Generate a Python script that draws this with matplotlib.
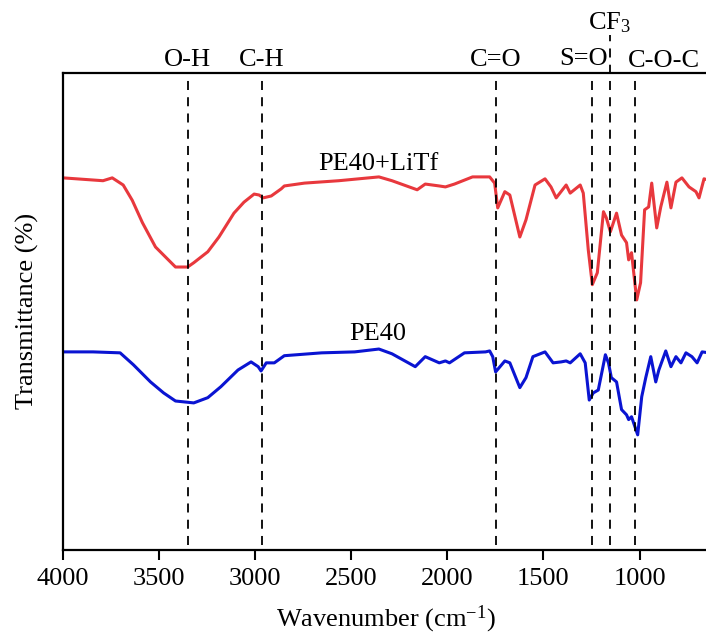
import numpy as np
import matplotlib
matplotlib.use("Agg")
import matplotlib.pyplot as plt

plt.rcParams['font.family'] = ['Liberation Serif', 'DejaVu Serif']
plt.rcParams['mathtext.fontset'] = 'custom'
plt.rcParams['mathtext.rm'] = 'Liberation Serif'
plt.rcParams['mathtext.default'] = 'regular'

# PE40 + LiTf spectrum
wn_litf = [4000, 3791, 3743, 3686, 3639, 3586, 3518, 3466, 3414, 3351, 3319, 3246,
           3188, 3110, 3058, 3005, 2979, 2958, 2916, 2864, 2848, 2743, 2565, 2356,
           2288, 2157, 2115, 2042, 2010, 1963, 1869, 1801, 1780, 1754, 1738, 1701,
           1675, 1623, 1591, 1544, 1492, 1461, 1434, 1382, 1361, 1309, 1293, 1267,
           1246, 1220, 1188, 1173, 1152, 1120, 1094, 1068, 1057, 1042, 1015, 995,
           974, 953, 937, 911, 890, 858, 837, 811, 780, 743, 707, 691, 665, 649, 633]
t_litf = [78.0, 77.4, 78.0, 76.5, 73.3, 68.6, 63.5, 61.4, 59.3, 59.3, 60.2, 62.5,
          65.6, 70.6, 72.9, 74.6, 74.4, 73.8, 74.2, 75.7, 76.3, 76.9, 77.4, 78.2,
          77.4, 75.5, 76.7, 76.3, 76.1, 76.7, 78.2, 78.2, 78.2, 76.9, 71.7, 75.1,
          74.4, 65.6, 69.2, 76.5, 77.8, 76.1, 73.8, 76.5, 74.8, 76.5, 74.8, 62.9,
          55.6, 58.1, 70.9, 69.6, 66.7, 70.6, 66.0, 64.4, 60.8, 62.3, 52.4, 56.0,
          71.3, 71.9, 76.9, 67.5, 71.9, 77.1, 71.7, 77.1, 78.0, 76.1, 75.1, 73.8,
          77.8, 77.6, 72.3]

# PE40 spectrum
wn_pe = [4000, 3843, 3702, 3633, 3544, 3476, 3414, 3319, 3246, 3178, 3089, 3021,
         2984, 2969, 2942, 2900, 2848, 2654, 2482, 2356, 2288, 2167, 2115, 2042,
         2010, 1989, 1911, 1801, 1780, 1764, 1749, 1701, 1675, 1623, 1591, 1555,
         1492, 1450, 1408, 1382, 1361, 1309, 1283, 1262, 1241, 1215, 1178, 1162,
         1147, 1120, 1094, 1068, 1057, 1042, 1010, 989, 968, 942, 916, 900,
         864, 837, 811, 785, 759, 728, 701, 675, 639]
t_pe = [41.5, 41.5, 41.3, 38.8, 35.2, 32.9, 31.2, 30.8, 31.9, 34.2, 37.7, 39.4,
        38.4, 37.5, 39.2, 39.2, 40.7, 41.3, 41.5, 42.1, 41.1, 38.4, 40.5, 39.2,
        39.6, 39.2, 41.3, 41.5, 41.7, 40.5, 37.3, 39.6, 39.2, 34.0, 36.1, 40.5,
        41.5, 39.2, 39.4, 39.6, 39.2, 41.1, 39.2, 31.4, 32.9, 33.5, 40.9, 39.2,
        36.1, 35.2, 29.4, 28.3, 27.3, 27.9, 24.1, 32.1, 36.1, 40.5, 35.2, 37.7,
        41.7, 38.4, 40.5, 39.2, 41.3, 40.5, 39.2, 41.5, 41.3]

# band assignments
band_pos = [3350, 2965, 1747, 1248, 1155, 1025]
band_names = ['O-H', 'C-H', 'C=O', 'S=O', 'CF$_3$', 'C-O-C']

fig = plt.figure(figsize=(7.06, 6.4), dpi=100)
ax = fig.add_axes([0.089, 0.141, 0.915, 0.745])

ax.plot(wn_litf, t_litf, color='#e8383d', lw=2.2)
ax.plot(wn_pe, t_pe, color='#0a14d2', lw=2.2)

for pos, name in zip(band_pos, band_names):
    if name == 'CF$_3$':
        ax.plot([pos, pos], [1, 108], ls=(0, (5, 4)), color='black', lw=1.3, clip_on=False)
        ax.text(pos, 110.5, name, ha='center', va='center', fontsize=19)
    else:
        ax.plot([pos, pos], [1, 99.5], ls=(0, (5, 4)), color='black', lw=1.3)
        if name == 'S=O':
            ax.text(pos + 45, 103.0, name, ha='center', va='center', fontsize=19)
        elif name == 'C-O-C':
            ax.text(pos - 150, 102.6, name, ha='center', va='center', fontsize=19)
        else:
            ax.text(pos, 102.8, name, ha='center', va='center', fontsize=19)

ax.text(2361, 81.0, 'PE40+LiTf', ha='center', va='center', fontsize=19)
ax.text(2361, 45.2, 'PE40', ha='center', va='center', fontsize=19)

ax.set_xlim(4000, 640)
ax.set_ylim(0, 100)
ax.set_xticks([4000, 3500, 3000, 2500, 2000, 1500, 1000])
ax.set_yticks([])
ax.tick_params(axis='x', direction='out', length=7, width=1.5, labelsize=19, pad=6)
for s in ['left', 'bottom', 'top']:
    ax.spines[s].set_linewidth(1.6)
ax.spines['right'].set_visible(False)

ax.set_xlabel('Wavenumber (cm$^{-1}$)', fontsize=19, labelpad=10)
ax.set_ylabel('Transmittance (%)', fontsize=19, labelpad=17)

fig.savefig('out.png', dpi=100)
